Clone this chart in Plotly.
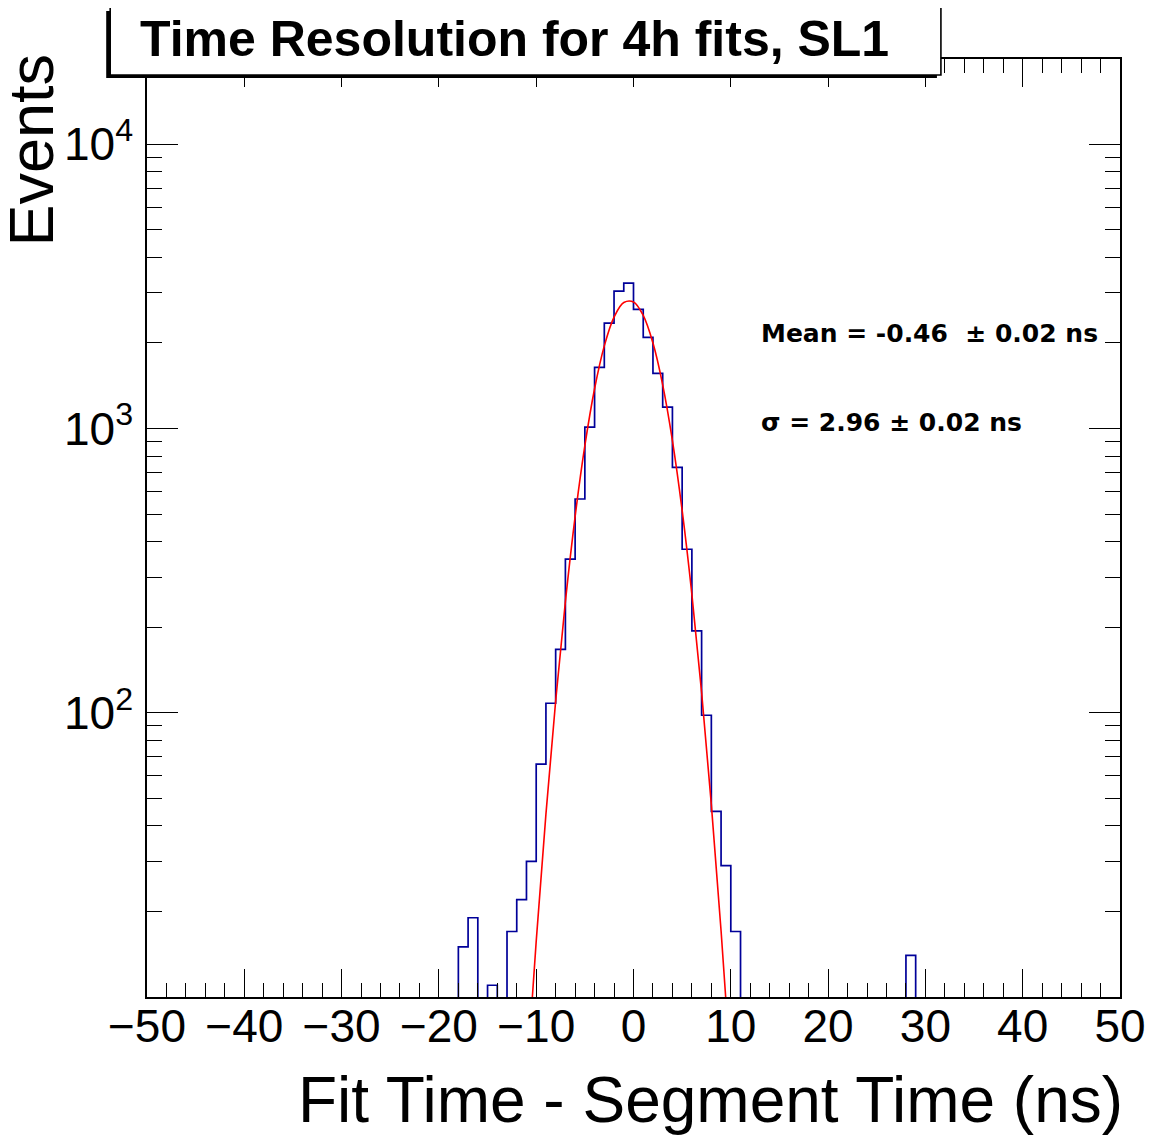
import numpy as np
import plotly.graph_objects as go

# histogram: 1 ns wide bins from -50 to 50 ns
bin_edges = list(range(-50, 51))
counts = [
    0, 0, 0, 0, 0, 0, 0, 0, 0, 0,
    0, 0, 0, 0, 0, 0, 0, 0, 0, 0,
    0, 0, 0, 0, 0, 0, 0, 0, 0, 0,
    0, 0, 15, 19, 0, 11, 0, 17, 22, 30,
    66, 108, 167, 347, 565, 1011, 1640, 2348, 3043, 3247,
    2624, 2091, 1562, 1189, 730, 376, 194, 98, 45, 29,
    17, 0, 0, 0, 0, 0, 0, 0, 0, 0,
    0, 0, 0, 0, 0, 0, 0, 0, 14, 0,
    0, 0, 0, 0, 0, 0, 0, 0, 0, 0,
    0, 0, 0, 0, 0, 0, 0, 0, 0, 0,
]

# gaussian fit curve
fit_x = [-11, -10, -9, -8, -7, -6, -5, -4, -3, -2, -1,
         0, 1, 2, 3, 4, 5, 6, 7, 8, 9, 10]
fit_y = [5.0, 15.7, 44, 110, 246, 490, 870, 1380, 1953, 2465, 2775,
         2788, 2499, 1998, 1425, 907, 515, 261, 118, 47.5, 17.1, 5.5]

title_txt = "Time Resolution for 4h fits, SL1"
mean_txt = "Mean = -0.46  \u00b1 0.02 ns"
sigma_txt = "\u03c3 = 2.96 \u00b1 0.02 ns"
x_title = "Fit Time - Segment Time (ns)"
y_title = "Events"
y_major = [100, 1000, 10000]
y_major_text = ["10<sup>2</sup>", "10<sup>3</sup>", "10<sup>4</sup>"]

# page is drawn with the browser's 8px body margin, so shrink the figure
OFF = 8
W, H = 1158 - OFF, 1144 - OFF
# plot frame in page pixels
L, R, T, B = 147, 1125, 59, 997


def px(x):
    return (x - L) / (R - L)


def py(y):
    return (B - y) / (B - T)


# empty bins go below the axis floor so the steps drop to the frame
y_step = [c if c > 0 else 1 for c in counts]
y_step = y_step + [y_step[-1]]

fig = go.Figure()
fig.add_trace(go.Scatter(
    x=bin_edges, y=y_step, mode="lines", line_shape="hv",
    line=dict(color="#000099", width=1.7), showlegend=False))
fig.add_trace(go.Scatter(
    x=fit_x, y=fit_y, mode="lines", line_shape="spline",
    line=dict(color="#ff0000", width=1.6), showlegend=False))

minor_y = [m * 10 ** e for e in range(1, 5) for m in range(2, 10)]

fig.update_layout(
    width=W, height=H, autosize=False,
    margin=dict(l=L - OFF, r=W - (R - OFF), t=T - OFF, b=H - (B - OFF)),
    plot_bgcolor="white", paper_bgcolor="white",
    font=dict(family="Liberation Sans", color="black"),
    xaxis=dict(
        range=[-50, 50], tick0=0, dtick=10,
        ticks="inside", ticklen=28, tickwidth=1.3, tickcolor="black",
        showline=True, linewidth=1.5, linecolor="black", mirror="ticks",
        showgrid=False, zeroline=False,
        tickfont=dict(size=46), ticklabelstandoff=-12,
        minor=dict(dtick=2, ticks="inside", ticklen=14, tickwidth=1.3,
                   tickcolor="black", showgrid=False),
    ),
    yaxis=dict(
        type="log", range=[1, 4.3],
        tickmode="array", tickvals=y_major, ticktext=y_major_text,
        ticks="inside", ticklen=31, tickwidth=1.3, tickcolor="black",
        showline=True, linewidth=1.5, linecolor="black", mirror="ticks",
        showgrid=False, zeroline=False,
        tickfont=dict(size=46), ticklabelstandoff=3,
        minor=dict(tickmode="array", tickvals=minor_y, ticks="inside",
                   ticklen=15, tickwidth=1.3, tickcolor="black",
                   showgrid=False),
    ),
)

# title pave with shadow
fig.add_shape(type="rect", xref="paper", yref="paper",
              x0=px(106), x1=px(941), y0=py(78), y1=py(11),
              fillcolor="black", line=dict(width=0), layer="above")
fig.add_shape(type="rect", xref="paper", yref="paper",
              x0=px(110), x1=px(945), y0=py(75), y1=py(7),
              fillcolor="white", line=dict(color="black", width=1.6),
              layer="above")
fig.add_annotation(xref="paper", yref="paper", x=px(516), y=py(39),
                   text=title_txt, showarrow=False,
                   xanchor="center", yanchor="middle",
                   font=dict(family="Liberation Sans", size=50, weight=700))

# fit results
for txt, yy in [(mean_txt, 333), (sigma_txt, 422)]:
    fig.add_annotation(xref="paper", yref="paper", x=px(762), y=py(yy),
                       text=txt, showarrow=False,
                       xanchor="left", yanchor="middle",
                       font=dict(family="DejaVu Sans", size=25, weight=700))

# axis titles
fig.add_annotation(xref="paper", yref="paper", x=px(1130), y=py(1100),
                   text=x_title, showarrow=False,
                   xanchor="right", yanchor="middle",
                   font=dict(size=64))
fig.add_annotation(xref="paper", yref="paper", x=px(30), y=py(150),
                   text=y_title, showarrow=False, textangle=-90,
                   xanchor="center", yanchor="middle", borderpad=0,
                   font=dict(size=63))

fig.write_html("out.html")
